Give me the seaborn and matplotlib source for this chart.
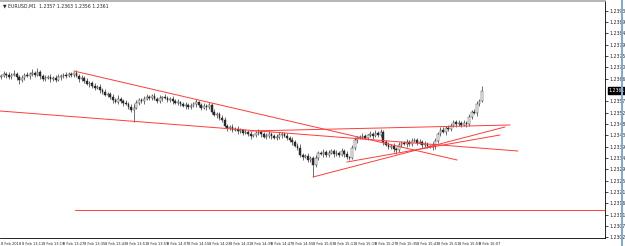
import numpy as np
import pandas as pd
import matplotlib.pyplot as plt
import matplotlib.transforms as mtransforms
from matplotlib.patches import Rectangle
import seaborn as sns

# ─────────────────────────────────────────────
# EURUSD M1 candles with hand-drawn trend lines (terminal style)
# ─────────────────────────────────────────────

sns.set_style("white")
plt.rcParams["font.family"] = ["DejaVu Sans"]

SYMBOL_TITLE = "EURUSD,M1  1.2357 1.2363 1.2356 1.2361"
LAST_PRICE = 1.2361
LINE_RED = "#ff3b3b"

first_open = 1.23665
closes = [
    1.23669, 1.23677, 1.23673, 1.23665, 1.23673, 1.23677, 1.23665, 1.23653, 1.23661, 1.23673,
    1.23669, 1.23677, 1.23681, 1.23673, 1.23685, 1.23669, 1.23657, 1.23661, 1.23665, 1.23657,
    1.23661, 1.23653, 1.23665, 1.23669, 1.23673, 1.23669, 1.23677, 1.23673, 1.23681, 1.23669,
    1.23657, 1.23661, 1.23649, 1.23637, 1.23641, 1.23629, 1.23621, 1.23625, 1.23613, 1.23605,
    1.23593, 1.23597, 1.23585, 1.23573, 1.23565, 1.23577, 1.23569, 1.23561, 1.23557, 1.23545,
    1.23533, 1.23541, 1.23561, 1.23573, 1.23569, 1.23577, 1.23585, 1.23581, 1.23589, 1.23577,
    1.23569, 1.23581, 1.23585, 1.23581, 1.23573, 1.23577, 1.23569, 1.23561, 1.23565, 1.23557,
    1.23549, 1.23553, 1.23545, 1.23549, 1.23557, 1.23565, 1.23553, 1.23541, 1.23549, 1.23545,
    1.23553, 1.23525, 1.23513, 1.23517, 1.23501, 1.23493, 1.23469, 1.23461, 1.23465, 1.23453,
    1.23457, 1.23449, 1.23453, 1.23441, 1.23445, 1.23437, 1.23429, 1.23433, 1.23441, 1.23445,
    1.23437, 1.23425, 1.23429, 1.23437, 1.23429, 1.23421, 1.23425, 1.23433, 1.23437, 1.23429,
    1.23421, 1.23413, 1.23405, 1.23389, 1.23381, 1.23353, 1.23345, 1.23349, 1.23333, 1.23341,
    1.23313, 1.23341, 1.23361, 1.23357, 1.23365, 1.23353, 1.23361, 1.23369, 1.23357, 1.23361,
    1.23353, 1.23369, 1.23357, 1.23345, 1.23341, 1.23381, 1.23413, 1.23421, 1.23425, 1.23429,
    1.23421, 1.23433, 1.23437, 1.23429, 1.23441, 1.23433, 1.23445, 1.23405, 1.23393, 1.23385,
    1.23389, 1.23377, 1.23373, 1.23393, 1.23401, 1.23397, 1.23405, 1.23397, 1.23409, 1.23413,
    1.23401, 1.23405, 1.23393, 1.23397, 1.23389, 1.23385, 1.23393, 1.23409, 1.23437, 1.23453,
    1.23445, 1.23461, 1.23457, 1.23469, 1.23485, 1.23477, 1.23481, 1.23473, 1.23481, 1.23477,
    1.23505, 1.23525, 1.23521, 1.23557, 1.23569, 1.23610,
]
# wick extents beyond the body, in points (0.00001)
hi_pts = [
    8, 12, 6, 10, 8, 16, 6, 8, 12, 6, 10, 8, 14, 6, 16, 8, 6, 12, 8, 10,
    6, 10, 12, 8, 6, 10, 8, 6, 4, 10, 6, 12, 8, 10, 6, 8, 12, 6, 10, 8,
    10, 6, 8, 12, 6, 16, 8, 6, 10, 8, 12, 16, 10, 8, 6, 10, 12, 8, 6, 10,
    8, 12, 6, 10, 8, 6, 10, 8, 12, 6, 8, 10, 6, 12, 8, 10, 6, 8, 10, 6,
    12, 8, 10, 6, 8, 12, 10, 6, 8, 12, 6, 10, 8, 6, 12, 8, 10, 6, 8, 10,
    6, 8, 12, 10, 6, 8, 10, 12, 6, 8, 10, 6, 12, 8, 10, 16, 8, 6, 12, 8,
    10, 12, 8, 6, 10, 8, 12, 6, 8, 10, 6, 12, 8, 10, 6, 12, 10, 8, 6, 10,
    8, 6, 12, 8, 10, 6, 12, 8, 6, 10, 8, 12, 6, 10, 8, 6, 12, 8, 10, 6,
    8, 12, 6, 10, 8, 6, 10, 12, 8, 10, 12, 8, 10, 12, 8, 6, 10, 8, 12, 8,
    10, 8, 12, 10, 8, 19,
]
lo_pts = [
    10, 6, 12, 8, 10, 6, 12, 16, 8, 10, 6, 12, 8, 10, 6, 12, 8, 10, 6, 12,
    8, 10, 6, 12, 8, 10, 6, 8, 10, 6, 12, 8, 10, 6, 12, 8, 10, 6, 12, 8,
    6, 10, 8, 12, 6, 10, 8, 12, 6, 10, 8, 48, 6, 10, 8, 12, 6, 10, 8, 6,
    10, 8, 12, 6, 10, 8, 12, 6, 10, 8, 6, 12, 8, 10, 6, 12, 8, 10, 6, 12,
    8, 10, 6, 12, 8, 10, 6, 12, 8, 10, 6, 12, 8, 10, 6, 8, 12, 6, 10, 8,
    12, 6, 10, 8, 12, 6, 10, 8, 12, 6, 10, 8, 12, 6, 10, 8, 12, 6, 10, 8,
    48, 8, 10, 6, 12, 8, 10, 6, 12, 8, 10, 6, 12, 8, 10, 6, 8, 12, 6, 10,
    6, 10, 8, 12, 6, 10, 8, 12, 6, 10, 8, 12, 16, 8, 10, 6, 12, 8, 10, 6,
    10, 6, 12, 8, 10, 6, 12, 16, 8, 10, 6, 12, 8, 10, 6, 12, 8, 10, 6, 12,
    8, 10, 6, 12, 8, 4,
]

# trend lines: (bar, price) -> (bar, price)
tl_x0 = [28.0, -0.4, 120.0, 133.0, 95.8, 28.5]
tl_y0 = [1.23689, 1.23529, 1.23265, 1.23325, 1.23449, 1.23133]
tl_x1 = [175.4, 198.8, 193.8, 191.9, 195.8, 232.3]
tl_y1 = [1.23333, 1.23369, 1.23465, 1.23433, 1.23473, 1.23133]

xtick_bars = [0, 8, 16, 24, 32, 40, 48, 56, 64, 72, 80, 88,
              96, 104, 112, 120, 128, 136, 144, 152, 160, 168, 176, 184]
xtick_labels = ["8 Feb 2018", "8 Feb 13:11", "8 Feb 13:19", "8 Feb 13:27", "8 Feb 13:35",
                "8 Feb 13:43", "8 Feb 13:51", "8 Feb 13:59", "8 Feb 14:07", "8 Feb 14:15",
                "8 Feb 14:23", "8 Feb 14:31", "8 Feb 14:39", "8 Feb 14:47", "8 Feb 14:55",
                "8 Feb 15:03", "8 Feb 15:11", "8 Feb 15:19", "8 Feb 15:27", "8 Feb 15:35",
                "8 Feb 15:43", "8 Feb 15:51", "8 Feb 15:59", "8 Feb 16:07"]
ytick_vals = [1.23930, 1.23885, 1.23839, 1.23794, 1.23749, 1.23703, 1.23658,
              1.23567, 1.23522, 1.23477, 1.23431, 1.23386, 1.23341, 1.23295,
              1.23250, 1.23205, 1.23159, 1.23114, 1.23069, 1.23023]

close = np.array(closes)
opens = np.array([first_open] + closes[:-1])
bars = np.arange(len(close))
body_lo = np.minimum(opens, close)
body_hi = np.maximum(opens, close)
highs = body_hi + np.array(hi_pts) * 1e-5
lows = body_lo - np.array(lo_pts) * 1e-5
up = close >= opens

fig = plt.figure(figsize=(6.25, 2.46), dpi=100)
ax = fig.add_axes([0, 8 / 246, 605 / 625, 237 / 246])

ax.vlines(bars, lows, highs, color="#202020", linewidth=0.45, zorder=2)
ax.bar(bars, np.maximum(body_hi - body_lo, 0.8e-5), bottom=body_lo, width=0.7,
       color=np.where(up, "white", "#303030"), edgecolor="#202020", linewidth=0.3, zorder=3)

for x0, y0, x1, y1 in zip(tl_x0, tl_y0, tl_x1, tl_y1):
    seg = pd.DataFrame({"bar": [x0, x1], "price": [y0, y1]})
    sns.lineplot(data=seg, x="bar", y="price", ax=ax, color=LINE_RED,
                 linewidth=0.7, sort=False, zorder=4)

ax.set_xlim(-0.4, 232.3)
ax.set_ylim(1.23021, 1.23969)
ax.set_xlabel("")
ax.set_ylabel("")

ax.set_xticks(xtick_bars)
ax.set_xticklabels(xtick_labels, ha="left")
ax.yaxis.tick_right()
ax.set_yticks(ytick_vals)
ax.set_yticklabels([f"{v:.4f}" for v in ytick_vals])
ax.tick_params(axis="both", direction="out", length=2, width=0.5,
               labelsize=3.3, pad=1, color="black")
ax.tick_params(axis="x", labelsize=2.6, pad=0.8)

for s in ["bottom", "right"]:
    ax.spines[s].set_color("black")
    ax.spines[s].set_linewidth(0.6)
ax.spines["left"].set_visible(False)
ax.spines["top"].set_color("#a8a8a8")
ax.spines["top"].set_linewidth(1.2)

trans = mtransforms.blended_transform_factory(ax.transAxes, ax.transData)
ax.text(1.006, LAST_PRICE, f"{LAST_PRICE:.4f}", transform=trans, ha="left", va="center",
        fontsize=3.3, color="white", clip_on=False, zorder=10,
        bbox=dict(boxstyle="square,pad=0.2", facecolor="black", edgecolor="black"))

fig.text(3 / 625, 1 - 6 / 246, "▼ " + SYMBOL_TITLE, fontsize=3.3, va="center", ha="left")
fig.patches.append(Rectangle((620.5 / 625, 0), 2.5 / 625, 1, transform=fig.transFigure,
                             facecolor="#7ea9dd", edgecolor="none"))

plt.savefig("out.png", dpi=100)
plt.close()
